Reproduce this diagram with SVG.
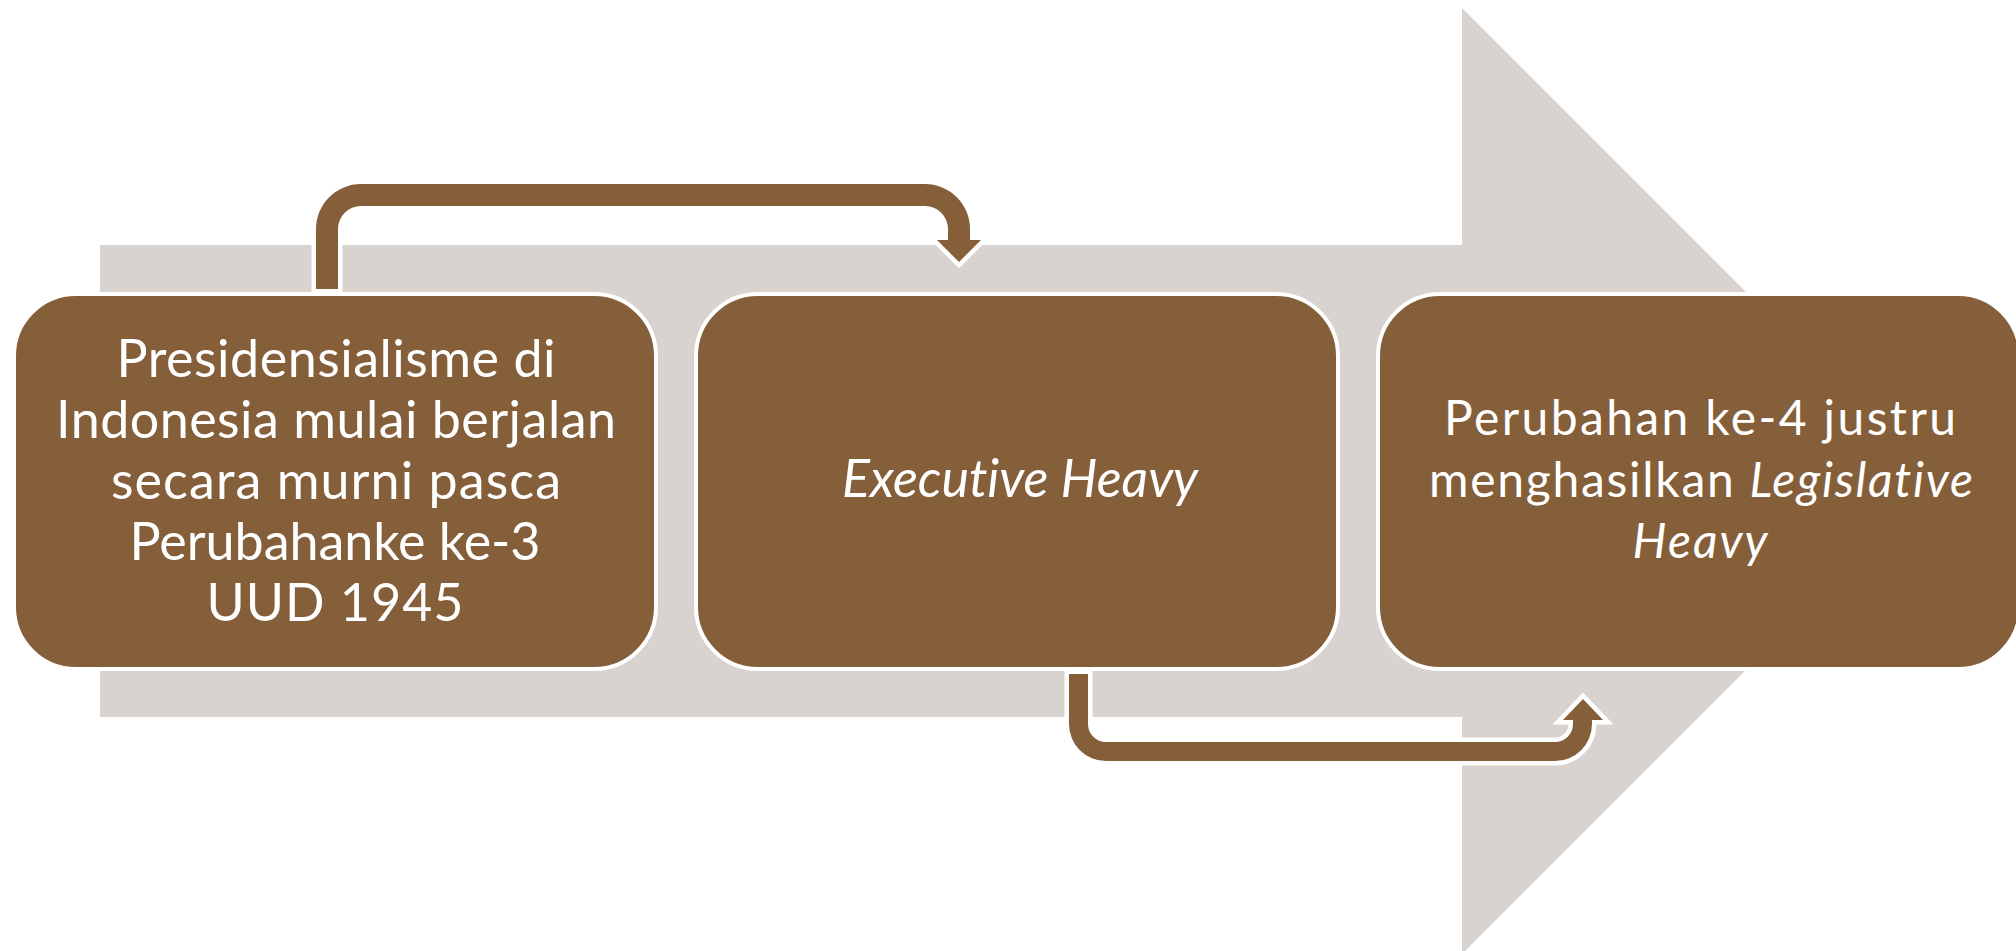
<svg xmlns="http://www.w3.org/2000/svg" width="2016" height="951" viewBox="0 0 2016 951">
  <style>
    .bg { fill: #D9D3D0; }
    .box { fill: #855E3A; stroke: #FFFFFF; stroke-width: 4; }
    .conn { fill: #855E3A; stroke: #FFFFFF; stroke-width: 9; stroke-linejoin: miter; paint-order: stroke; }
    .t { font-family: Lato, "Open Sans", "Liberation Sans", sans-serif; fill: #FFFFFF; text-anchor: middle; font-variant-ligatures: none; }
    .t1 { font-size: 52px; }
    .t2 { font-size: 52px; }
    .t3 { font-size: 48px; }
    .it { font-style: italic; }
  </style>
  <rect width="2016" height="951" fill="#FFFFFF"/>
  <polygon id="bigArrow" class="bg" points="100,245 1462,245 1462,8 1935,481 1462,954 1462,717 100,717"/>
  <g id="connectors">
    <path class="conn" d="M 316 289 V 229 A 45 45 0 0 1 361 184 H 925 A 45 45 0 0 1 970 229 V 240 H 981 L 959 262 L 937 240 H 948 V 229 A 23 23 0 0 0 925 206 H 361 A 23 23 0 0 0 338 229 V 289 Z"/>
    <path class="conn" d="M 1069 674 V 724 A 37 37 0 0 0 1106 761 H 1555 A 37 37 0 0 0 1592 724 V 720 H 1603 L 1583 699 L 1563 720 H 1573 V 724 A 18 18 0 0 1 1555 742 H 1106 A 18 18 0 0 1 1088 724 V 674 Z"/>
  </g>
  <g id="node1">
    <rect class="box" x="14" y="294" width="642" height="375" rx="62" ry="62"/>
    <text class="t t1" x="336" y="377" textLength="439">Presidensialisme di</text>
    <text class="t t1" x="336" y="438" textLength="560">Indonesia mulai berjalan</text>
    <text class="t t1" x="336" y="499" textLength="450">secara murni pasca</text>
    <text class="t t1" x="335" y="560" textLength="411">Perubahanke ke-3</text>
    <text class="t t1" x="335" y="621" textLength="257">UUD 1945</text>
  </g>
  <g id="node2">
    <rect class="box" x="696" y="294" width="642" height="375" rx="62" ry="62"/>
    <text class="t t2 it" x="1020" y="497" textLength="356">Executive Heavy</text>
  </g>
  <g id="node3">
    <rect class="box" x="1378" y="294" width="642" height="375" rx="62" ry="62"/>
    <text class="t t3" x="1700" y="435" textLength="512">Perubahan ke-4 justru</text>
    <text class="t t3" x="1701" y="497" textLength="544">menghasilkan <tspan class="it">Legislative</tspan></text>
    <text class="t t3 it" x="1700" y="558" textLength="135">Heavy</text>
  </g>
</svg>
